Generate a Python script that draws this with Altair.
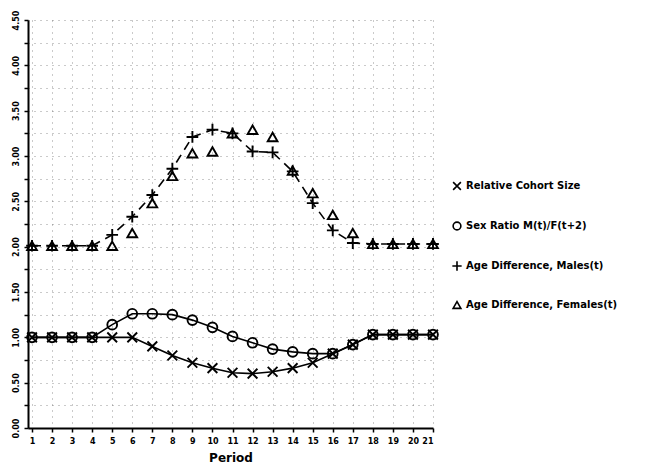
import altair as alt
import pandas as pd

periods = list(range(1, 22))
cohort = [1.00, 1.00, 1.00, 1.00, 1.00, 1.00, 0.90, 0.80, 0.72, 0.66, 0.61,
          0.60, 0.62, 0.66, 0.72, 0.82, 0.92, 1.03, 1.03, 1.03, 1.03]
sex_ratio = [1.00, 1.00, 1.00, 1.00, 1.14, 1.26, 1.26, 1.25, 1.19, 1.11, 1.01,
             0.94, 0.87, 0.84, 0.82, 0.82, 0.92, 1.03, 1.03, 1.03, 1.03]
males = [2.01, 2.01, 2.01, 2.01, 2.13, 2.33, 2.57, 2.86, 3.21, 3.29, 3.25,
         3.05, 3.04, 2.83, 2.48, 2.18, 2.04, 2.03, 2.03, 2.03, 2.03]
females = [2.01, 2.01, 2.01, 2.01, 2.01, 2.15, 2.48, 2.78, 3.03, 3.05, 3.25,
           3.29, 3.21, 2.84, 2.59, 2.35, 2.15, 2.03, 2.03, 2.03, 2.03]

names = ["Relative Cohort Size", "Sex Ratio  M(t)/F(t+2)",
         "Age Difference, Males(t)", "Age Difference, Females(t)"]
series_values = [cohort, sex_ratio, males, females]

y_ticks = [i * 0.25 for i in range(19)]

rows = []
for name, vals in zip(names, series_values):
    for p, v in zip(periods, vals):
        rows.append({"period": p, "value": v, "series": name})
df = pd.DataFrame(rows)

FONT = "DejaVu Sans"

x_enc = alt.X("period:Q",
              scale=alt.Scale(domain=[0.8, 21], nice=False, zero=False),
              axis=alt.Axis(values=periods, title="Period", labelAngle=0,
                            labelFontSize=8, labelFontWeight="bold", labelFont=FONT,
                            titleFontSize=12, titleFontWeight="bold", titleFont=FONT,
                            titlePadding=7, tickSize=4, labelPadding=5,
                            domainColor="black", domainWidth=2, tickColor="black",
                            tickWidth=1.5, labelColor="black", titleColor="black",
                            grid=True, gridColor="#666", gridDash=[1, 5],
                            gridOpacity=0.7))
y_enc = alt.Y("value:Q",
              scale=alt.Scale(domain=[0, 4.5], nice=False),
              axis=alt.Axis(values=y_ticks, title=None, labelAngle=270,
                            labelExpr="datum.value % 0.5 == 0 ? format(datum.value, '.2f') : ''",
                            labelFontSize=8, labelFontWeight="bold", labelFont=FONT,
                            labelColor="black", tickSize=4, labelPadding=8,
                            labelAlign="center", labelBaseline="middle",
                            domainColor="black", domainWidth=2, tickColor="black",
                            tickWidth=1.5,
                            grid=True, gridColor="#666", gridDash=[1, 5],
                            gridOpacity=0.7))

base = alt.Chart(df)

solid = base.transform_filter(
    alt.FieldOneOfPredicate(field="series", oneOf=names[:2])
).mark_line(color="black", strokeWidth=1.6).encode(
    x=x_enc, y=y_enc, detail="series:N")

dashed = base.transform_filter(
    alt.FieldEqualPredicate(field="series", equal=names[2])
).mark_line(color="black", strokeWidth=1.6, strokeDash=[9, 6]).encode(
    x=x_enc, y=y_enc)

x_path = "M-1,-1L1,1M-1,1L1,-1"
plus_path = "M-1.2,0H1.2M0,-1.2V1.2"

points = base.mark_point(filled=False, color="black", strokeWidth=1.9, size=95,
                         opacity=1).encode(
    x=x_enc, y=y_enc,
    shape=alt.Shape("series:N",
                    scale=alt.Scale(domain=names,
                                    range=[x_path, "circle", plus_path, "triangle-up"]),
                    legend=alt.Legend(title=None, orient="none", legendX=424,
                                      legendY=161, rowPadding=24,
                                      labelFont=FONT, labelFontSize=10,
                                      labelFontWeight="bold", labelColor="black",
                                      symbolStrokeColor="black",
                                      symbolFillColor="transparent",
                                      symbolStrokeWidth=1.6, symbolSize=60,
                                      labelOffset=4, labelLimit=300)))

chart = alt.layer(solid, dashed, points).properties(
    width=405, height=408,
    autosize=alt.AutoSizeParams(type="none"),
    padding={"left": 20, "top": 12, "right": 215, "bottom": 41},
    background="white",
).configure_view(stroke=None)

chart.save("out.html", embed_options={"renderer": "svg", "actions": False})
